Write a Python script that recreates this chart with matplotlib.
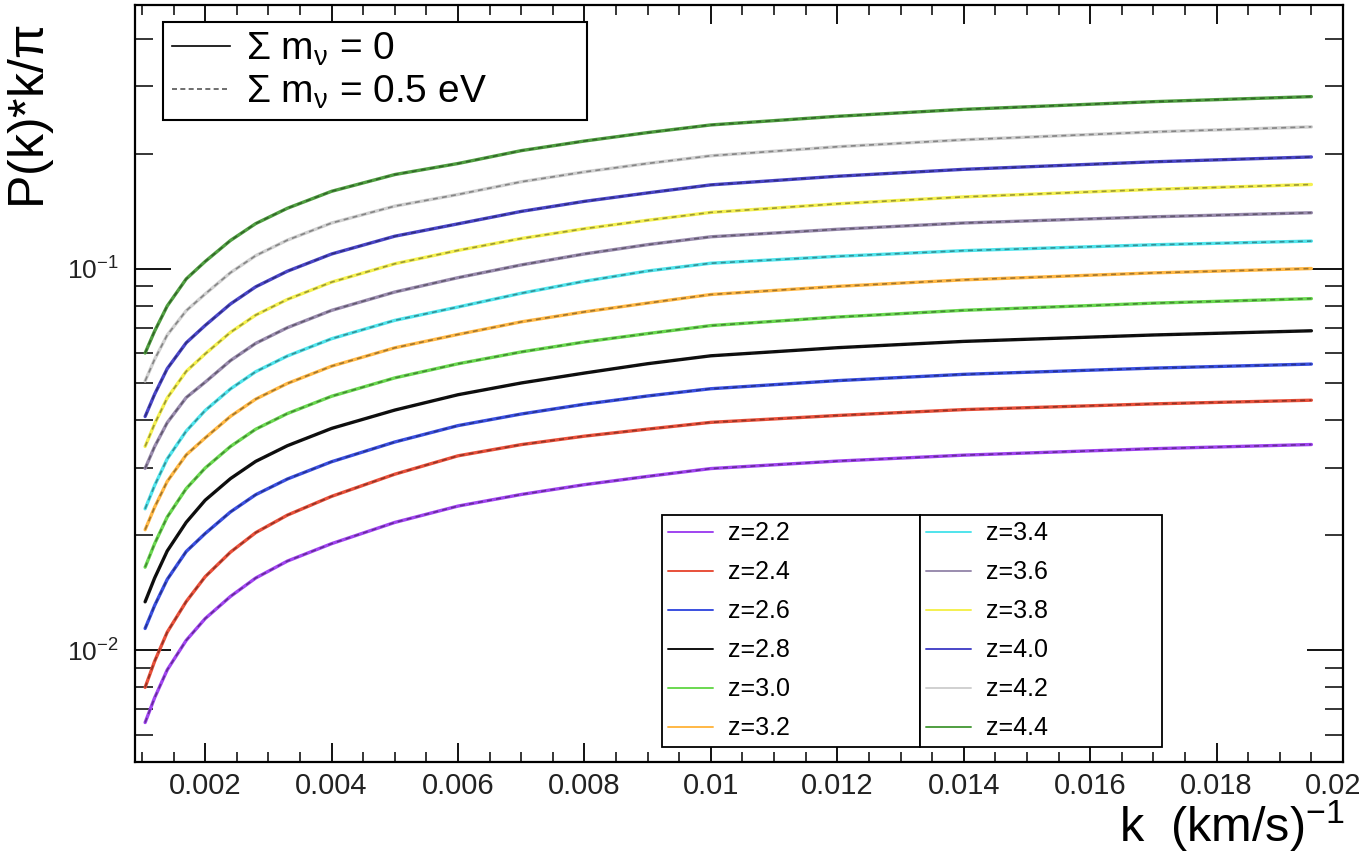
import matplotlib
matplotlib.use("Agg")
import matplotlib.pyplot as plt
from matplotlib.lines import Line2D
from matplotlib.ticker import MultipleLocator, LogLocator, NullFormatter, FixedLocator, FixedFormatter
import matplotlib.colors as mcolors
import matplotlib.transforms as mtrans

plt.rcParams['font.family'] = ['Liberation Sans', 'DejaVu Sans']
plt.rcParams['mathtext.fontset'] = 'custom'
plt.rcParams['mathtext.rm'] = 'Liberation Sans'
plt.rcParams['mathtext.it'] = 'Liberation Sans:italic'
plt.rcParams['mathtext.default'] = 'regular'

# ---- data ----
k = [0.00105, 0.0012, 0.0014, 0.0017, 0.002, 0.0024, 0.0028, 0.0033, 0.004, 0.005,
     0.006, 0.007, 0.008, 0.009, 0.010, 0.012, 0.014, 0.017, 0.0195]

z_labels = ["z=2.2", "z=2.4", "z=2.6", "z=2.8", "z=3.0", "z=3.2",
            "z=3.4", "z=3.6", "z=3.8", "z=4.0", "z=4.2", "z=4.4"]

p_z22 = [0.00647, 0.00751, 0.00889, 0.01062, 0.01211, 0.01384, 0.01547, 0.01713, 0.01903, 0.02163,
         0.02387, 0.0256, 0.02716, 0.02855, 0.02993, 0.03131, 0.03245, 0.03374, 0.0346]
p_z24 = [0.0080, 0.00936, 0.01116, 0.01342, 0.01559, 0.01808, 0.02034, 0.0226, 0.02531, 0.02893,
         0.03232, 0.03458, 0.03639, 0.03797, 0.03955, 0.04122, 0.04271, 0.04421, 0.0452]
p_z26 = [0.01141, 0.0131, 0.01534, 0.01815, 0.02023, 0.02304, 0.02557, 0.0281, 0.03119, 0.03513,
         0.03878, 0.04159, 0.04412, 0.04637, 0.04844, 0.05086, 0.05283, 0.05485, 0.0562]
p_z28 = [0.0134, 0.01546, 0.01821, 0.02164, 0.02473, 0.02817, 0.03126, 0.03435, 0.03813, 0.04259,
         0.04672, 0.05015, 0.05324, 0.05633, 0.05908, 0.06204, 0.06444, 0.06698, 0.0687]
p_z30 = [0.01651, 0.01902, 0.02235, 0.02652, 0.03002, 0.03419, 0.03795, 0.0417, 0.04629, 0.05171,
         0.0563, 0.06047, 0.06422, 0.06755, 0.07089, 0.07464, 0.07773, 0.08115, 0.0834]
p_z32 = [0.0207, 0.0237, 0.0277, 0.0325, 0.036, 0.041, 0.0455, 0.050, 0.0555, 0.062,
         0.0672, 0.0725, 0.077, 0.0812, 0.0855, 0.0898, 0.0934, 0.0974, 0.100]
p_z34 = [0.02348, 0.02702, 0.03174, 0.03752, 0.04248, 0.04838, 0.05369, 0.059, 0.06549, 0.07316,
         0.0793, 0.08614, 0.09263, 0.09853, 0.10325, 0.10762, 0.11139, 0.1154, 0.118]
p_z36 = [0.02996, 0.03416, 0.03948, 0.04592, 0.0504, 0.0574, 0.0637, 0.070, 0.0777, 0.0868,
         0.09464, 0.1022, 0.1092, 0.1155, 0.1211, 0.1267, 0.1316, 0.1366, 0.140]
p_z38 = [0.0342, 0.03918, 0.04582, 0.05378, 0.05976, 0.06806, 0.07553, 0.083, 0.09213, 0.10292,
         0.11155, 0.11985, 0.12716, 0.1338, 0.14027, 0.14774, 0.15405, 0.16119, 0.166]
p_z40 = [0.04096, 0.04684, 0.05468, 0.0639, 0.07095, 0.08075, 0.08957, 0.09839, 0.10917, 0.12152,
         0.13093, 0.14112, 0.14994, 0.15778, 0.16562, 0.17444, 0.18189, 0.19032, 0.196]
p_z42 = [0.05076, 0.05781, 0.06698, 0.07755, 0.08578, 0.09753, 0.1081, 0.11868, 0.1316, 0.1457,
         0.15628, 0.16873, 0.17907, 0.18847, 0.1974, 0.20845, 0.21738, 0.22795, 0.235]
p_z44 = [0.06007, 0.06853, 0.0798, 0.09391, 0.10434, 0.11844, 0.13113, 0.14382, 0.15933, 0.17625,
         0.18838, 0.2036, 0.21573, 0.22701, 0.23773, 0.25042, 0.26113, 0.27354, 0.282]

series = [p_z22, p_z24, p_z26, p_z28, p_z30, p_z32, p_z34, p_z36, p_z38, p_z40, p_z42, p_z44]

colors = ["#a044f0", "#e8503a", "#3a4fe0", "#111111", "#6ad850", "#ffb845",
          "#50e4ec", "#9a8cae", "#f4f050", "#4a46c8", "#d0d0d0", "#4f9e40"]

x_ticks = [0.002, 0.004, 0.006, 0.008, 0.01, 0.012, 0.014, 0.016, 0.018, 0.02]
x_ticklabels = ["0.002", "0.004", "0.006", "0.008", "0.01", "0.012", "0.014", "0.016", "0.018", "0.02"]
y_ticks = [0.01, 0.1]
y_ticklabels = ["$10^{-2}$", "$10^{-1}$"]

# ---- figure ----
W, H = 1363, 851
fig = plt.figure(figsize=(W / 100, H / 100), dpi=100)
ax = fig.add_axes([135 / W, 1 - 762 / H, (1343 - 135) / W, (762 - 5) / H])
ax.set_yscale('log')
ax.set_xlim(0.00089, 0.02)
ax.set_ylim(0.0051, 0.49)

def darker(c, f=0.55):
    r, g, b = mcolors.to_rgb(c)
    return (r * f, g * f, b * f)

handles = []
for vals, c, lab in zip(series, colors, z_labels):
    h, = ax.plot(k, vals, color=c, lw=2.4, solid_capstyle='round',
                 solid_joinstyle='round', label=lab)
    ax.plot(k, vals, color=darker(c), lw=1.2, ls=(0, (3, 2.5)), alpha=0.8)
    handles.append(h)

for s in ax.spines.values():
    s.set_linewidth(1.6)
    s.set_color('black')

ax.xaxis.set_major_locator(FixedLocator(x_ticks))
ax.xaxis.set_major_formatter(FixedFormatter(x_ticklabels))
ax.xaxis.set_minor_locator(MultipleLocator(0.0005))
ax.yaxis.set_major_locator(FixedLocator(y_ticks))
ax.yaxis.set_major_formatter(FixedFormatter(y_ticklabels))
ax.yaxis.set_minor_locator(LogLocator(base=10, subs=[2, 3, 4, 5, 6, 7, 8, 9], numticks=20))
ax.yaxis.set_minor_formatter(NullFormatter())

ax.tick_params(axis='x', which='major', direction='in', length=14, width=1.3,
               top=True, bottom=True, labelsize=21, pad=7, labelcolor='#222222')
ax.tick_params(axis='x', which='minor', direction='in', length=7, width=1.1,
               top=True, bottom=True)
ax.tick_params(axis='y', which='major', direction='in', length=26, width=1.3,
               left=True, right=True, labelsize=19, pad=12, labelcolor='#222222')
ax.tick_params(axis='y', which='minor', direction='in', length=13, width=1.1,
               left=True, right=True)

# shift the last x tick label slightly left so it stays inside the canvas
last_tick = ax.xaxis.get_major_ticks()[-1]
last_tick.label1.set_transform(last_tick.label1.get_transform() +
                               mtrans.ScaledTranslation(-0.10, 0, fig.dpi_scale_trans))

# neutrino-mass legend
mass_handles = [Line2D([], [], color='black', lw=1.2),
                Line2D([], [], color='#555555', lw=1.2, ls=(0, (3, 2)))]
mass_labels = [r"$\Sigma$ m$_{\nu}$ = 0", r"$\Sigma$ m$_{\nu}$ = 0.5 eV"]
leg1 = ax.legend(mass_handles, mass_labels, loc='upper left',
                 bbox_to_anchor=(163 / W, 1 - 22 / H, (587 - 163) / W, 0),
                 bbox_transform=fig.transFigure, mode='expand',
                 fontsize=28, frameon=True, fancybox=False, edgecolor='black',
                 framealpha=1, handlelength=1.5, handletextpad=0.4,
                 labelspacing=0.13, borderpad=0.23, borderaxespad=0)
leg1.get_frame().set_linewidth(1.5)
ax.add_artist(leg1)

# redshift legends (two columns with separator)
legA = ax.legend(handles[:6], z_labels[:6], loc='upper left',
                 bbox_to_anchor=(662 / W, 1 - 515 / H, (920 - 662) / W, 0),
                 bbox_transform=fig.transFigure, mode='expand',
                 fontsize=18, frameon=True, fancybox=False, edgecolor='black',
                 framealpha=1, handlelength=1.8, handletextpad=0.6,
                 labelspacing=0.6, borderpad=0.25, borderaxespad=0)
legA.get_frame().set_linewidth(1.3)
for l in legA.get_lines():
    l.set_linewidth(1.4)
ax.add_artist(legA)
legB = ax.legend(handles[6:], z_labels[6:], loc='upper left',
                 bbox_to_anchor=(920 / W, 1 - 515 / H, (1162 - 920) / W, 0),
                 bbox_transform=fig.transFigure, mode='expand',
                 fontsize=18, frameon=True, fancybox=False, edgecolor='black',
                 framealpha=1, handlelength=1.8, handletextpad=0.6,
                 labelspacing=0.6, borderpad=0.25, borderaxespad=0)
legB.get_frame().set_linewidth(1.3)
for l in legB.get_lines():
    l.set_linewidth(1.4)

# axis titles
fig.text(1345 / W, 1 - 826 / H, r"k  (km/s)$^{-1}$", ha='right', va='center', fontsize=35)
fig.text(31 / W, 1 - 25 / H, r"P(k)*k/$\pi$", rotation=90, ha='center', va='top', fontsize=36)

fig.savefig("out.png", dpi=100)
